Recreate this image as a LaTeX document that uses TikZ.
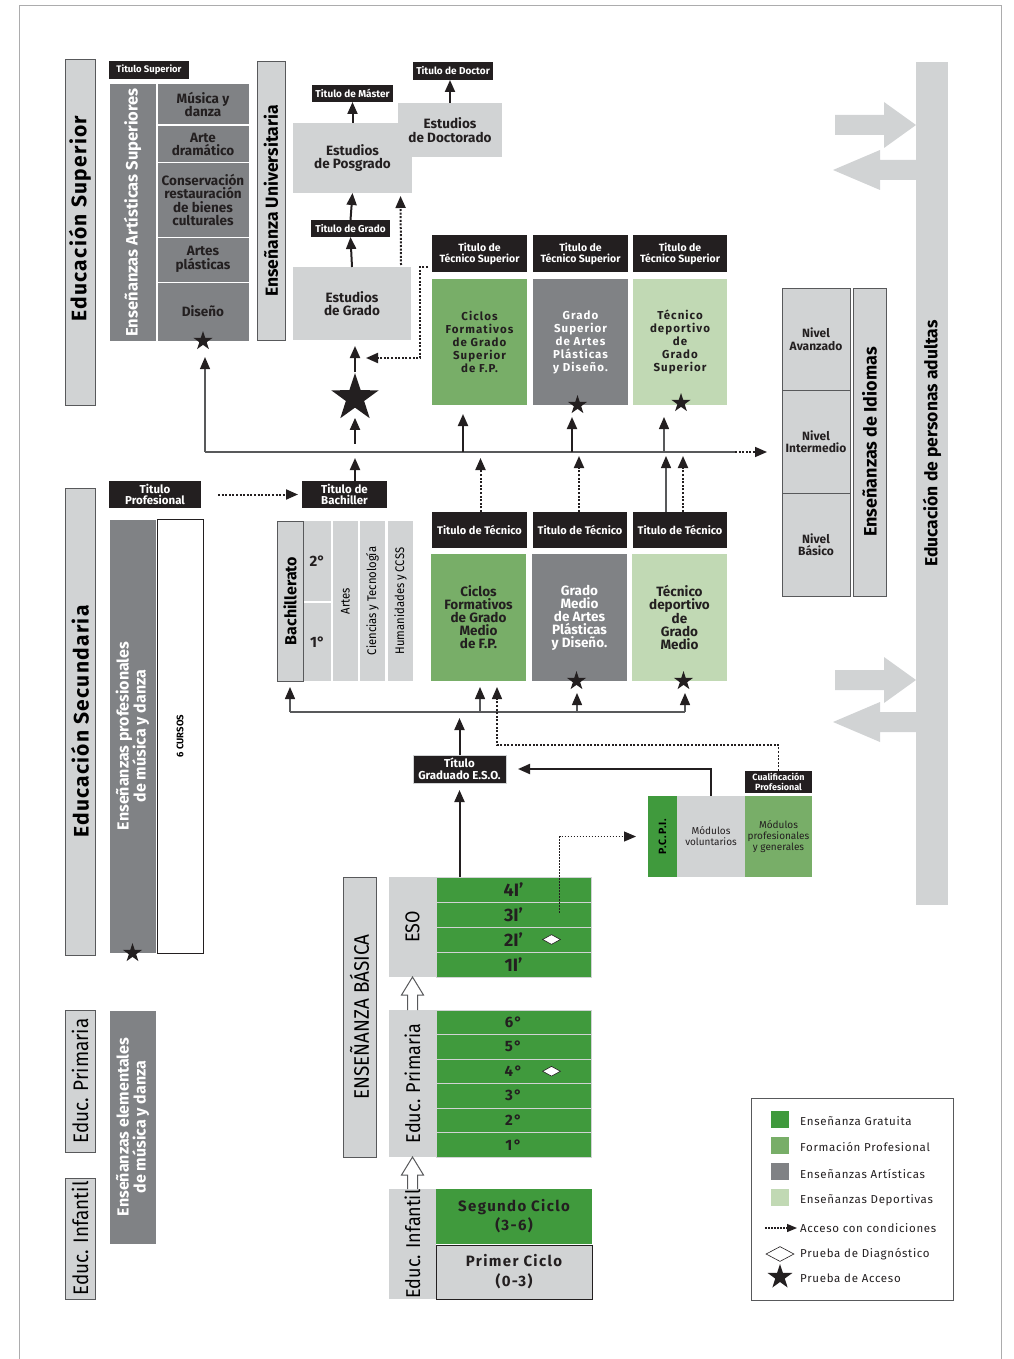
\documentclass[tikz,border=0pt]{standalone}
\usepackage{fontspec}
\setmainfont{Fira Sans}
\newfontfamily\espaciada[LetterSpace=6]{Fira Sans}
\newfontfamily\abierta[LetterSpace=9]{Fira Sans}
\newfontfamily\estrecha[FakeStretch=0.9]{Fira Sans}
\usetikzlibrary{arrows.meta, calc, shapes.geometric, positioning}

\definecolor{gratuita}{HTML}{409A3D}
\definecolor{formprof}{HTML}{78AE68}
\definecolor{artistica}{HTML}{808285}
\definecolor{deportiva}{HTML}{C1D9B4}
\definecolor{gris}{HTML}{D1D3D4}
\definecolor{negro}{HTML}{231F20}
\definecolor{borde}{HTML}{58595B}

% caja por esquinas: [estilo]{nombre}{x1}{y1}{x2}{y2}{texto}
\newcommand{\Caja}[7][caja]{
	\node[#1, minimum width={(#5)-(#3)}, minimum height={(#6)-(#4)}] (#2) at ({((#3)+(#5))/2},{((#4)+(#6))/2}) {#7};
}
% caja con texto vertical
\newcommand{\CajaV}[8][caja]{
	\Caja[#1]{#2}{#3}{#4}{#5}{#6}{}
	\node[rotate=90, align=center, inner sep=0pt, #7] (#2-t) at (#2.center) {#8};
}
% flecha hueca hacia arriba
\newcommand{\Subida}[2]{
	\path (#1) coordinate (sA) (#2) coordinate (sB);
	\filldraw[fill=white, draw=borde, line width=1pt, line join=miter] ($(sA)+(-5,0)$) -- ($(sB)+(-5,18)$) -- ($(sB)+(-11,18)$) -- (sB) -- ($(sB)+(11,18)$) -- ($(sB)+(5,18)$) -- ($(sA)+(5,0)$);
}
% flechas grises de la barra de adultos
\newcommand{\FlechaDer}[1]{
	\fill[gris] ($(#1)+(-81,-10)$) -- ($(#1)+(-32,-10)$) -- ($(#1)+(-32,-23)$) -- (#1) -- ($(#1)+(-32,23)$) -- ($(#1)+(-32,10)$) -- ($(#1)+(-81,10)$) -- cycle;
}
\newcommand{\FlechaIzq}[1]{
	\fill[gris] (#1) ++(0,-10) -- ++(-36,0) -- ++(0,-10) -- ++(-47,20) -- ++(47,20) -- ++(0,-10) -- ++(36,0) -- cycle;
}

\begin{document}
\begin{tikzpicture}[x=1pt, y=-1pt,
		caja/.style={rectangle, inner sep=0pt, outer sep=0pt, align=center, text=negro, font=\bfseries\fontsize{13.5}{13.5}\selectfont},
		gris/.style={caja, fill=gris},
		grisb/.style={caja, fill=gris, draw=borde, line width=1pt},
		titulo/.style={caja, fill=negro, text=white, font=\bfseries\fontsize{10}{11}\selectfont},
		arte/.style={caja, fill=artistica, draw=white, line width=1pt},
		fp/.style={caja, fill=formprof, font=\abierta\bfseries\fontsize{11.5}{13}\selectfont},
		dep/.style={caja, fill=deportiva, font=\abierta\bfseries\fontsize{11.5}{13}\selectfont},
		artbox/.style={caja, fill=artistica, text=white, font=\abierta\bfseries\fontsize{11.5}{13}\selectfont},
		grat/.style={caja, fill=gratuita, draw=gris, line width=1pt},
		estrella/.style={star, star points=5, star point ratio=2.6, fill=negro, inner sep=0pt, minimum size=#1},
		rombo/.style={diamond, draw=negro, fill=white, line width=0.6pt, inner sep=0pt, minimum width=18, minimum height=10},
		leyenda/.style={anchor=west, inner sep=0pt, text=negro, font=\espaciada\fontsize{11.5}{12}\selectfont},
		flecha/.style={draw=negro, line width=2pt, -{Triangle[width=10pt, length=12pt]}},
		linea/.style={draw=borde, line width=1.4pt},
		rama/.style={linea, -{Triangle[width=10pt, length=12pt, color=negro]}},
		puntos/.style={draw=negro, line width=2pt, dash pattern=on 2pt off 1.6pt, -{Triangle[width=10pt, length=12pt]}},
		vert/.style={font=\estrecha\fontsize{#1}{#1}\selectfont}
	]
	\useasboundingbox (0,0) rectangle (1013,1359);
	\draw[borde!50, line width=0.8pt] (19,1359) -- (19,5) -- (1001,5) -- (1001,1359);

	% ---- Educacion superior
	\Caja[grisb]{eduSup}{65}{60}{95}{405}{}
	\node[rotate=90, inner sep=0pt, font=\espaciada\bfseries\fontsize{21}{22}\selectfont] (eduSup-t) at ($(eduSup.center)+(0,-14)$) {Educación Superior};
	\Caja[titulo, font=\bfseries\fontsize{9.5}{10}\selectfont]{tSup}{109}{61}{189}{79}{Titulo Superior}
	\CajaV[arte]{easCol}{109}{84}{156}{341}{text=white, font=\bfseries\fontsize{16.5}{17}\selectfont}{Enseñanzas Artísticas Superiores}
	\Caja[arte]{musica}{157}{84}{249}{125}{Música y\\danza}
	\Caja[arte]{arte}{157}{126}{249}{163}{Arte\\dramático}
	\Caja[arte]{conserv}{157}{163}{249}{237}{Conservación\\restauración\\de bienes\\culturales}
	\Caja[arte]{plasticas}{157}{237}{249}{282}{Artes\\plásticas}
	\Caja[arte]{diseno}{157}{282}{249}{341}{Diseño}
	\node[estrella=20] (starDis) at (diseno.south) {};
	\CajaV[grisb]{univ}{257}{62}{285}{340}{font=\bfseries\fontsize{17.5}{18}\selectfont}{Enseñanza Universitaria}

	\Caja[titulo]{tMaster}{312}{85}{393}{102}{Titulo de Máster}
	\Caja[titulo]{tDoctor}{413}{62}{493}{80}{Titulo de Doctor}
	\Caja[gris]{posgrado}{293}{123}{412}{193}{Estudios\\de Posgrado}
	\Caja[gris]{doctorado}{398}{103}{502}{157}{Estudios\\de Doctorado}
	\Caja[titulo]{tGrado}{311}{220}{390}{237}{Titulo de Grado}
	\Caja[gris]{grado}{293}{267}{411}{340}{Estudios\\de Grado}
	\node[estrella=50] (starGrado) at (355,398) {};

	\Caja[titulo, font=\bfseries\fontsize{10.5}{11}\selectfont]{tTS1}{432}{235}{527}{272}{Titulo de\\Técnico Superior}
	\Caja[titulo, font=\bfseries\fontsize{10.5}{11}\selectfont]{tTS2}{533}{235}{628}{272}{Titulo de\\Técnico Superior}
	\Caja[titulo, font=\bfseries\fontsize{10.5}{11}\selectfont]{tTS3}{633}{235}{727}{272}{Titulo de\\Técnico Superior}
	\Caja[fp]{ciclosGS}{432}{279}{527}{405}{Ciclos\\Formativos\\de Grado\\Superior\\de F.P.}
	\Caja[artbox]{apGS}{533}{279}{628}{405}{Grado\\Superior\\de Artes\\Plásticas\\y Diseño.}
	\Caja[dep]{tdGS}{633}{279}{727}{405}{Técnico\\deportivo\\de\\Grado\\Superior}
	\node[estrella=20] (starApGS) at ($(apGS.south)+(-3,0)$) {};
	\node[estrella=20] (starTdGS) at ($(tdGS.south)+(1,-2)$) {};

	% ---- Idiomas y adultos
	\Caja[grisb, font=\bfseries\fontsize{12}{12.5}\selectfont]{avanzado}{782}{288}{850}{390}{Nivel\\Avanzado}
	\Caja[grisb, font=\bfseries\fontsize{12}{12.5}\selectfont]{intermedio}{782}{390}{850}{493}{Nivel\\Intermedio}
	\Caja[grisb, font=\bfseries\fontsize{12}{12.5}\selectfont]{basico}{782}{493}{850}{596}{Nivel\\Básico}
	\CajaV[grisb]{idiomas}{853}{288}{886}{596}{font=\bfseries\fontsize{18}{18}\selectfont}{Enseñanzas de Idiomas}

	\FlechaDer{916,125}
	\FlechaIzq{916,170}
	\FlechaDer{916,680}
	\FlechaIzq{916,722}
	\Caja[gris]{adultos}{916}{62}{948}{905}{}
	\node[rotate=90, inner sep=0pt, font=\bfseries\fontsize{17.5}{18}\selectfont] (adultos-t) at ($(adultos.center)+(0,-40)$) {Educación de personas adultas};

	% ---- Educacion secundaria
	\CajaV[grisb]{eduSec}{65}{488}{95}{955}{font=\espaciada\bfseries\fontsize{21}{22}\selectfont}{Educación Secundaria}
	\Caja[titulo, font=\bfseries\fontsize{11.5}{11.5}\selectfont]{tProf}{109}{481}{201}{508}{Titulo\\Profesional}
	\Caja[titulo, font=\bfseries\fontsize{11.5}{11.5}\selectfont]{tBach}{302}{481}{387}{508}{Titulo de\\Bachiller}
	\CajaV[arte]{epmCol}{109}{519}{156}{953}{text=white, font=\bfseries\fontsize{16}{17}\selectfont}{Enseñanzas profesionales\\de música y danza}
	\CajaV[caja, fill=white, draw=negro, line width=0.8pt]{cursos}{157}{519}{203}{953}{font=\bfseries\fontsize{9.5}{10}\selectfont}{6 CURSOS}
	\node[estrella=20] (starEpm) at (epmCol.south) {};

	\CajaV[grisb]{bach}{277}{521}{303}{681}{font=\bfseries\fontsize{16}{16}\selectfont}{Bachillerato}
	\Caja[gris, font=\bfseries\fontsize{15}{15}\selectfont]{bach2}{304}{521}{331}{601}{2°}
	\Caja[gris, font=\bfseries\fontsize{15}{15}\selectfont]{bach1}{304}{603}{331}{681}{1°}
	\CajaV[gris]{artes}{333}{521}{358}{681}{vert=12.5}{Artes}
	\CajaV[gris]{ciencias}{360}{521}{385}{681}{vert=12.5}{Ciencias y Tecnología}
	\CajaV[gris]{human}{388}{521}{413}{681}{vert=12.5}{Humanidades y CCSS}

	\Caja[titulo, font=\bfseries\fontsize{11}{11}\selectfont]{tTec1}{432}{512}{527}{548}{Titulo de Técnico}
	\Caja[titulo, font=\bfseries\fontsize{11}{11}\selectfont]{tTec2}{533}{512}{627}{548}{Titulo de Técnico}
	\Caja[titulo, font=\bfseries\fontsize{11}{11}\selectfont]{tTec3}{633}{512}{727}{548}{Titulo de Técnico}
	\Caja[fp, font=\bfseries\fontsize{13.5}{13}\selectfont]{ciclosGM}{431}{554}{526}{681}{Ciclos\\Formativos\\de Grado\\Medio\\de F.P.}
	\Caja[artbox, font=\bfseries\fontsize{13.5}{13}\selectfont]{apGM}{532}{554}{627}{681}{Grado\\Medio\\de Artes\\Plásticas\\y Diseño.}
	\Caja[dep, font=\bfseries\fontsize{13.5}{13}\selectfont]{tdGM}{632}{554}{727}{681}{Técnico\\deportivo\\de\\Grado\\Medio}
	\node[estrella=20] (starApGM) at ($(apGM.south)+(-3,0)$) {};
	\node[estrella=20] (starTdGM) at ($(tdGM.south)+(4,0)$) {};

	\Caja[titulo, draw=gris, line width=1pt, font=\bfseries\fontsize{11.5}{12}\selectfont]{tGrad}{413}{755}{506}{783}{Título\\Graduado E.S.O.}
	\Caja[titulo, font=\bfseries\fontsize{9}{9.5}\selectfont]{cualif}{745}{771}{812}{793}{Cualificación\\Profesional}
	\CajaV[caja, fill=gratuita]{pcpi}{648}{796}{677}{877}{font=\abierta\bfseries\fontsize{10.5}{11}\selectfont}{P.C.P.I.}
	\Caja[gris, font=\fontsize{10}{11}\selectfont]{voluntarios}{677}{796}{745}{877}{Módulos\\voluntarios}
	\Caja[caja, fill=formprof, font=\fontsize{10}{11}\selectfont]{modprof}{745}{796}{812}{877}{Módulos\\profesionales\\y generales}

	% ---- Ensenanza basica
	\CajaV[grisb]{basica}{343}{877}{376}{1157}{vert=21}{ENSEÑANZA BÁSICA}
	\CajaV[gris]{esoL}{389}{877}{436}{977}{vert=20}{ESO}
	\Caja[grat, font=\bfseries\fontsize{18}{18}\selectfont]{eso4}{436}{877}{591}{902}{4I’}
	\Caja[grat, font=\bfseries\fontsize{18}{18}\selectfont]{eso3}{436}{902}{591}{927}{3I’}
	\Caja[grat, font=\bfseries\fontsize{18}{18}\selectfont]{eso2}{436}{927}{591}{952}{2I’}
	\Caja[grat, font=\bfseries\fontsize{18}{18}\selectfont]{eso1}{436}{952}{591}{977}{1I’}
	\node[rombo] (rEso) at ($(eso2.center)+(38,0)$) {};

	\CajaV[gris]{primL}{389}{1010}{436}{1157}{vert=20}{Educ. Primaria}
	\foreach \n [count=\i from 0] in {6,5,4,3,2,1}
		\Caja[grat, font=\abierta\bfseries\fontsize{15}{15}\selectfont]{prim\n}{436}{1010+24.5*\i}{591}{1034.5+24.5*\i}{\n°};
	\node[rombo] (rPrim) at ($(prim4.center)+(38,0)$) {};

	\CajaV[gris]{infL}{389}{1189}{436}{1299}{vert=20}{Educ. Infantil}
	\Caja[caja, fill=gratuita, font=\abierta\bfseries\fontsize{15}{19}\selectfont]{segundo}{436}{1189}{592}{1244}{Segundo Ciclo\\(3-6)}
	\Caja[grisb, draw=negro, font=\abierta\bfseries\fontsize{15}{20}\selectfont]{primero}{436}{1245}{592}{1299}{Primer Ciclo\\(0-3)}

	\Subida{primL.north}{esoL.south}
	\Subida{infL.north}{primL.south}

	% ---- Primaria e infantil (izquierda)
	\CajaV[grisb]{eduPrim}{65}{1010}{95}{1152}{vert=21}{Educ. Primaria}
	\CajaV[grisb]{eduInf}{65}{1178}{95}{1299}{vert=21}{Educ. Infantil}
	\CajaV[arte]{eemCol}{109}{1010}{156}{1244}{text=white, font=\bfseries\fontsize{16}{17}\selectfont}{Enseñanzas elementales\\de música y danza}

	% ---- Conectores superiores
	\draw[flecha] (posgrado.north) -- (tMaster.south);
	\draw[flecha] (doctorado.north) -- (doctorado.north |- tDoctor.south);
	\draw[flecha] (grado.north) -- (tGrado.south);
	\draw[flecha] (tGrado.north) -- (posgrado.south);
	\draw[puntos, shorten >=3pt] ($(grado.north)+(49,-2)$) -- ($(posgrado.south)+(48,0)$);
	\coordinate (dq1) at ($(tTS1.south west)+(-4,-5)$);
	\coordinate (dq2) at (420,358);
	\coordinate (dq3) at (366,358);
	\draw[puntos] (dq1) -| (dq2) -- (dq3);
	\draw[flecha, shorten >=6pt] (starGrado.north) -- (starGrado.north |- grado.south);
	\draw[flecha, shorten >=10pt] ($(starGrado.south)+(0,36)$) -- (starGrado.south);

	\coordinate (lineL) at (205,452);
	\coordinate (lineR) at (735,452);
	\coordinate (lineE) at (767,452);
	\draw[linea] (lineL) -- (lineR);
	\draw[puntos, line width=1.6pt] (lineR) -- (lineE);
	\draw[rama, shorten >=12pt] (lineL) -- (lineL |- starDis.south);
	\coordinate (b1) at (463,452);
	\coordinate (b2) at (572,452);
	\coordinate (b3) at (664,452);
	\draw[flecha, shorten >=9pt] (b1) -- (b1 |- ciclosGS.south);
	\draw[flecha, shorten >=12pt] (b2) -- (b2 |- apGS.south);
	\draw[rama, shorten >=12pt] (b3) -- (b3 |- tdGS.south);

	\draw[flecha, shorten >=6pt] (starGrado |- tBach.north) -- (starGrado |- lineL);
	\draw[puntos, shorten >=6pt] ($(tTec1.north)+(1,0)$) -- ($(tTec1.north |- lineL)+(1,0)$);
	\draw[puntos, shorten >=4pt] ($(tTec2.north)+(-1,0)$) -- ($(tTec2.north |- lineL)+(-1,0)$);
	\draw[puntos, shorten >=4pt] ($(tTec3.north)+(3,0)$) -- ($(tTec3.north |- lineL)+(3,0)$);
	\draw[rama, shorten >=4pt] ($(tTec3.north)+(-14,0)$) -- ($(tTec3.north |- lineL)+(-14,0)$);

	% ---- Conectores secundaria
	\draw[puntos, shorten <=17pt, shorten >=4pt] (tProf.east) -- (tBach.west);
	\coordinate (s0) at (290,712);
	\coordinate (s1) at (480,712);
	\coordinate (s2) at (577,712);
	\coordinate (s3) at (685,712);
	\draw[linea] (s0) -- (s3);
	\draw[rama, shorten >=6pt] (s0) -- (bach.south);
	\draw[rama, shorten >=6pt] (s1) -- (s1 |- ciclosGM.south);
	\draw[rama, shorten >=12pt] (s2) -- (s2 |- apGM.south);
	\draw[rama, shorten >=12pt] (s3) -- (s3 |- tdGM.south);
	\draw[flecha, shorten >=6pt] (tGrad.north) -- (tGrad.north |- s0);
	\coordinate (dp1) at (497,745);
	\draw[puntos, line width=1.5pt, shorten >=6pt] (cualif.north) |- (dp1) -- (dp1 |- ciclosGM.south);
	\draw[flecha, shorten >=12pt] (voluntarios.north) |- (tGrad.east);
	\draw[flecha, shorten >=7pt] (tGrad.south |- eso4.north) -- (tGrad.south);
	\coordinate (de3) at ($(eso3.center)+(46,-2)$);
	\draw[puntos, line width=1pt, dash pattern=on 1.5pt off 1.5pt, shorten >=12pt] (de3) |- (pcpi.west);

	% ---- Leyenda
	\Caja[caja, fill=white, draw=borde, line width=1pt]{leyenda}{751}{1098}{953}{1300}{}
	\Caja[caja, fill=gratuita]{cGrat}{771}{1111}{789}{1128}{}
	\Caja[caja, fill=formprof]{cFP}{771}{1137}{789}{1154}{}
	\Caja[caja, fill=artistica]{cArt}{771}{1163}{789}{1180}{}
	\Caja[caja, fill=deportiva]{cDep}{771}{1189}{789}{1206}{}
	\node[leyenda] (lGrat) at (800,1121) {Enseñanza Gratuita};
	\node[leyenda] (lFP) at (800,1147) {Formación Profesional};
	\node[leyenda] (lArt) at (800,1174) {Enseñanzas Artísticas};
	\node[leyenda] (lDep) at (800,1200) {Enseñanzas Deportivas};
	\node[leyenda] (lAcc) at (800,1228) {Acceso con condiciones};
	\node[leyenda] (lDiag) at (800,1254) {Prueba de Diagnóstico};
	\node[leyenda] (lPru) at (800,1278) {Prueba de Acceso};
	\coordinate (lp) at (765,1228);
	\draw[puntos, line width=1.2pt, dash pattern=on 1.5pt off 1.5pt, -{Triangle[width=8pt, length=10pt]}, shorten >=3pt] (lp) -- (lAcc.west);
	\node[rombo, minimum width=28, minimum height=15] (rLey) at (780,1254) {};
	\node[estrella=26] (sLey) at (780,1277) {};

\end{tikzpicture}
\end{document}
